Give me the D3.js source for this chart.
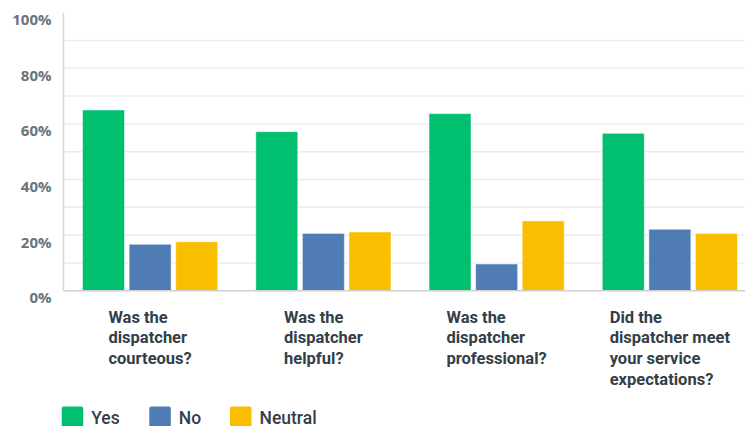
<!DOCTYPE html>
<html>
<head>
<meta charset="utf-8">
<script src="https://cdn.jsdelivr.net/npm/d3@7"></script>
<style>
  html, body { margin: 0; padding: 0; background: #fff; }
  svg { display: block; font-family: Roboto, "Noto Sans", sans-serif; }
</style>
</head>
<body>
<svg id="chart" width="745" height="426"></svg>
<script>
// Survey questions (x categories), each split into answer lines
const questions = [
  ["Was the", "dispatcher", "courteous?"],
  ["Was the", "dispatcher", "helpful?"],
  ["Was the", "dispatcher", "professional?"],
  ["Did the", "dispatcher meet", "your service", "expectations?"]
];
const seriesNames = ["Yes", "No", "Neutral"];
const seriesColors = ["#00bf6f", "#507cb6", "#f9be00"];
// Share of respondents (%) per question
const yesValues = [65.0, 57.2, 63.7, 56.6];
const noValues = [16.7, 20.6, 9.6, 22.1];
const neutralValues = [17.6, 21.1, 25.1, 20.6];
const tickValues = [0, 20, 40, 60, 80, 100];
const gridValues = [10, 20, 30, 40, 50, 60, 70, 80, 90];

const seriesValues = [yesValues, noValues, neutralValues];

const svg = d3.select("#chart");
const plotLeft = 63.5, plotRight = 756.5, plotTop = 12.7, plotBottom = 290.7;

const x0 = d3.scaleBand()
  .domain(d3.range(questions.length))
  .range([plotLeft, plotRight])
  .paddingInner(0.22)
  .paddingOuter(0.11);
const x1 = d3.scaleBand()
  .domain(d3.range(seriesNames.length))
  .range([0, x0.bandwidth()])
  .paddingInner(0.1);
const y = d3.scaleLinear().domain([0, 100]).range([plotBottom, plotTop]);

// horizontal grid
svg.append("g")
  .selectAll("line")
  .data(gridValues)
  .join("line")
  .attr("x1", plotLeft)
  .attr("x2", 745)
  .attr("y1", d => y(d))
  .attr("y2", d => y(d))
  .attr("stroke", "#ececec")
  .attr("stroke-width", 1.5);

// y tick labels (sit just below their gridline)
svg.append("g")
  .selectAll("text")
  .data(tickValues)
  .join("text")
  .attr("x", 51.5)
  .attr("y", d => y(d) + 6.5)
  .attr("text-anchor", "end")
  .attr("dominant-baseline", "central")
  .attr("font-family", "'Open Sans', sans-serif")
  .attr("font-size", 15)
  .attr("font-weight", 700)
  .attr("fill", "#68737b")
  .text(d => d + "%");

// bars
const groups = svg.append("g")
  .selectAll("g")
  .data(questions.map((q, i) => i))
  .join("g")
  .attr("transform", i => `translate(${x0(i)},0)`);

groups.selectAll("rect")
  .data(i => seriesValues.map((vals, s) => ({ s, v: vals[i] })))
  .join("rect")
  .attr("x", d => x1(d.s))
  .attr("width", x1.bandwidth())
  .attr("y", d => y(d.v))
  .attr("height", d => y(0) - y(d.v))
  .attr("fill", d => seriesColors[d.s])
  .attr("stroke", "rgba(255,255,255,0.45)")
  .attr("stroke-width", 1);

// axis lines
svg.append("line")
  .attr("x1", plotLeft).attr("x2", plotLeft)
  .attr("y1", plotTop).attr("y2", plotBottom)
  .attr("stroke", "#d6d6d6").attr("stroke-width", 1.5);
svg.append("line")
  .attr("x1", plotLeft).attr("x2", 745)
  .attr("y1", plotBottom).attr("y2", plotBottom)
  .attr("stroke", "#d0d0d0").attr("stroke-width", 1.5);

// category labels: left-aligned block centred under each group
const labels = svg.append("g")
  .selectAll("text")
  .data(questions.map((q, i) => ({ q, i })))
  .join("text")
  .attr("font-size", 16.5)
  .attr("font-weight", 700)
  .attr("fill", "#333e48");
labels.each(function(d) {
  const t = d3.select(this);
  d.q.forEach((line, k) => {
    t.append("tspan").attr("y", 322.7 + k * 20.6).text(line);
  });
  let maxW = 0;
  t.selectAll("tspan").each(function() { maxW = Math.max(maxW, this.getComputedTextLength()); });
  const cx = x0(d.i) + x0.bandwidth() / 2;
  t.selectAll("tspan").attr("x", cx - maxW / 2);
});

// legend
const legendX = [61.7, 149.3, 230];
const legend = svg.append("g")
  .selectAll("g")
  .data(seriesNames.map((n, i) => ({ n, i })))
  .join("g")
  .attr("transform", d => `translate(${legendX[d.i]},406.5)`);
legend.append("rect")
  .attr("width", 21.5).attr("height", 22)
  .attr("rx", 2)
  .attr("fill", d => seriesColors[d.i]);
legend.append("text")
  .attr("x", 29.5)
  .attr("y", 17.5)
  .attr("font-size", 17.5)
  .attr("font-weight", 500)
  .attr("fill", "#333e48")
  .text(d => d.n);
</script>
</body>
</html>
